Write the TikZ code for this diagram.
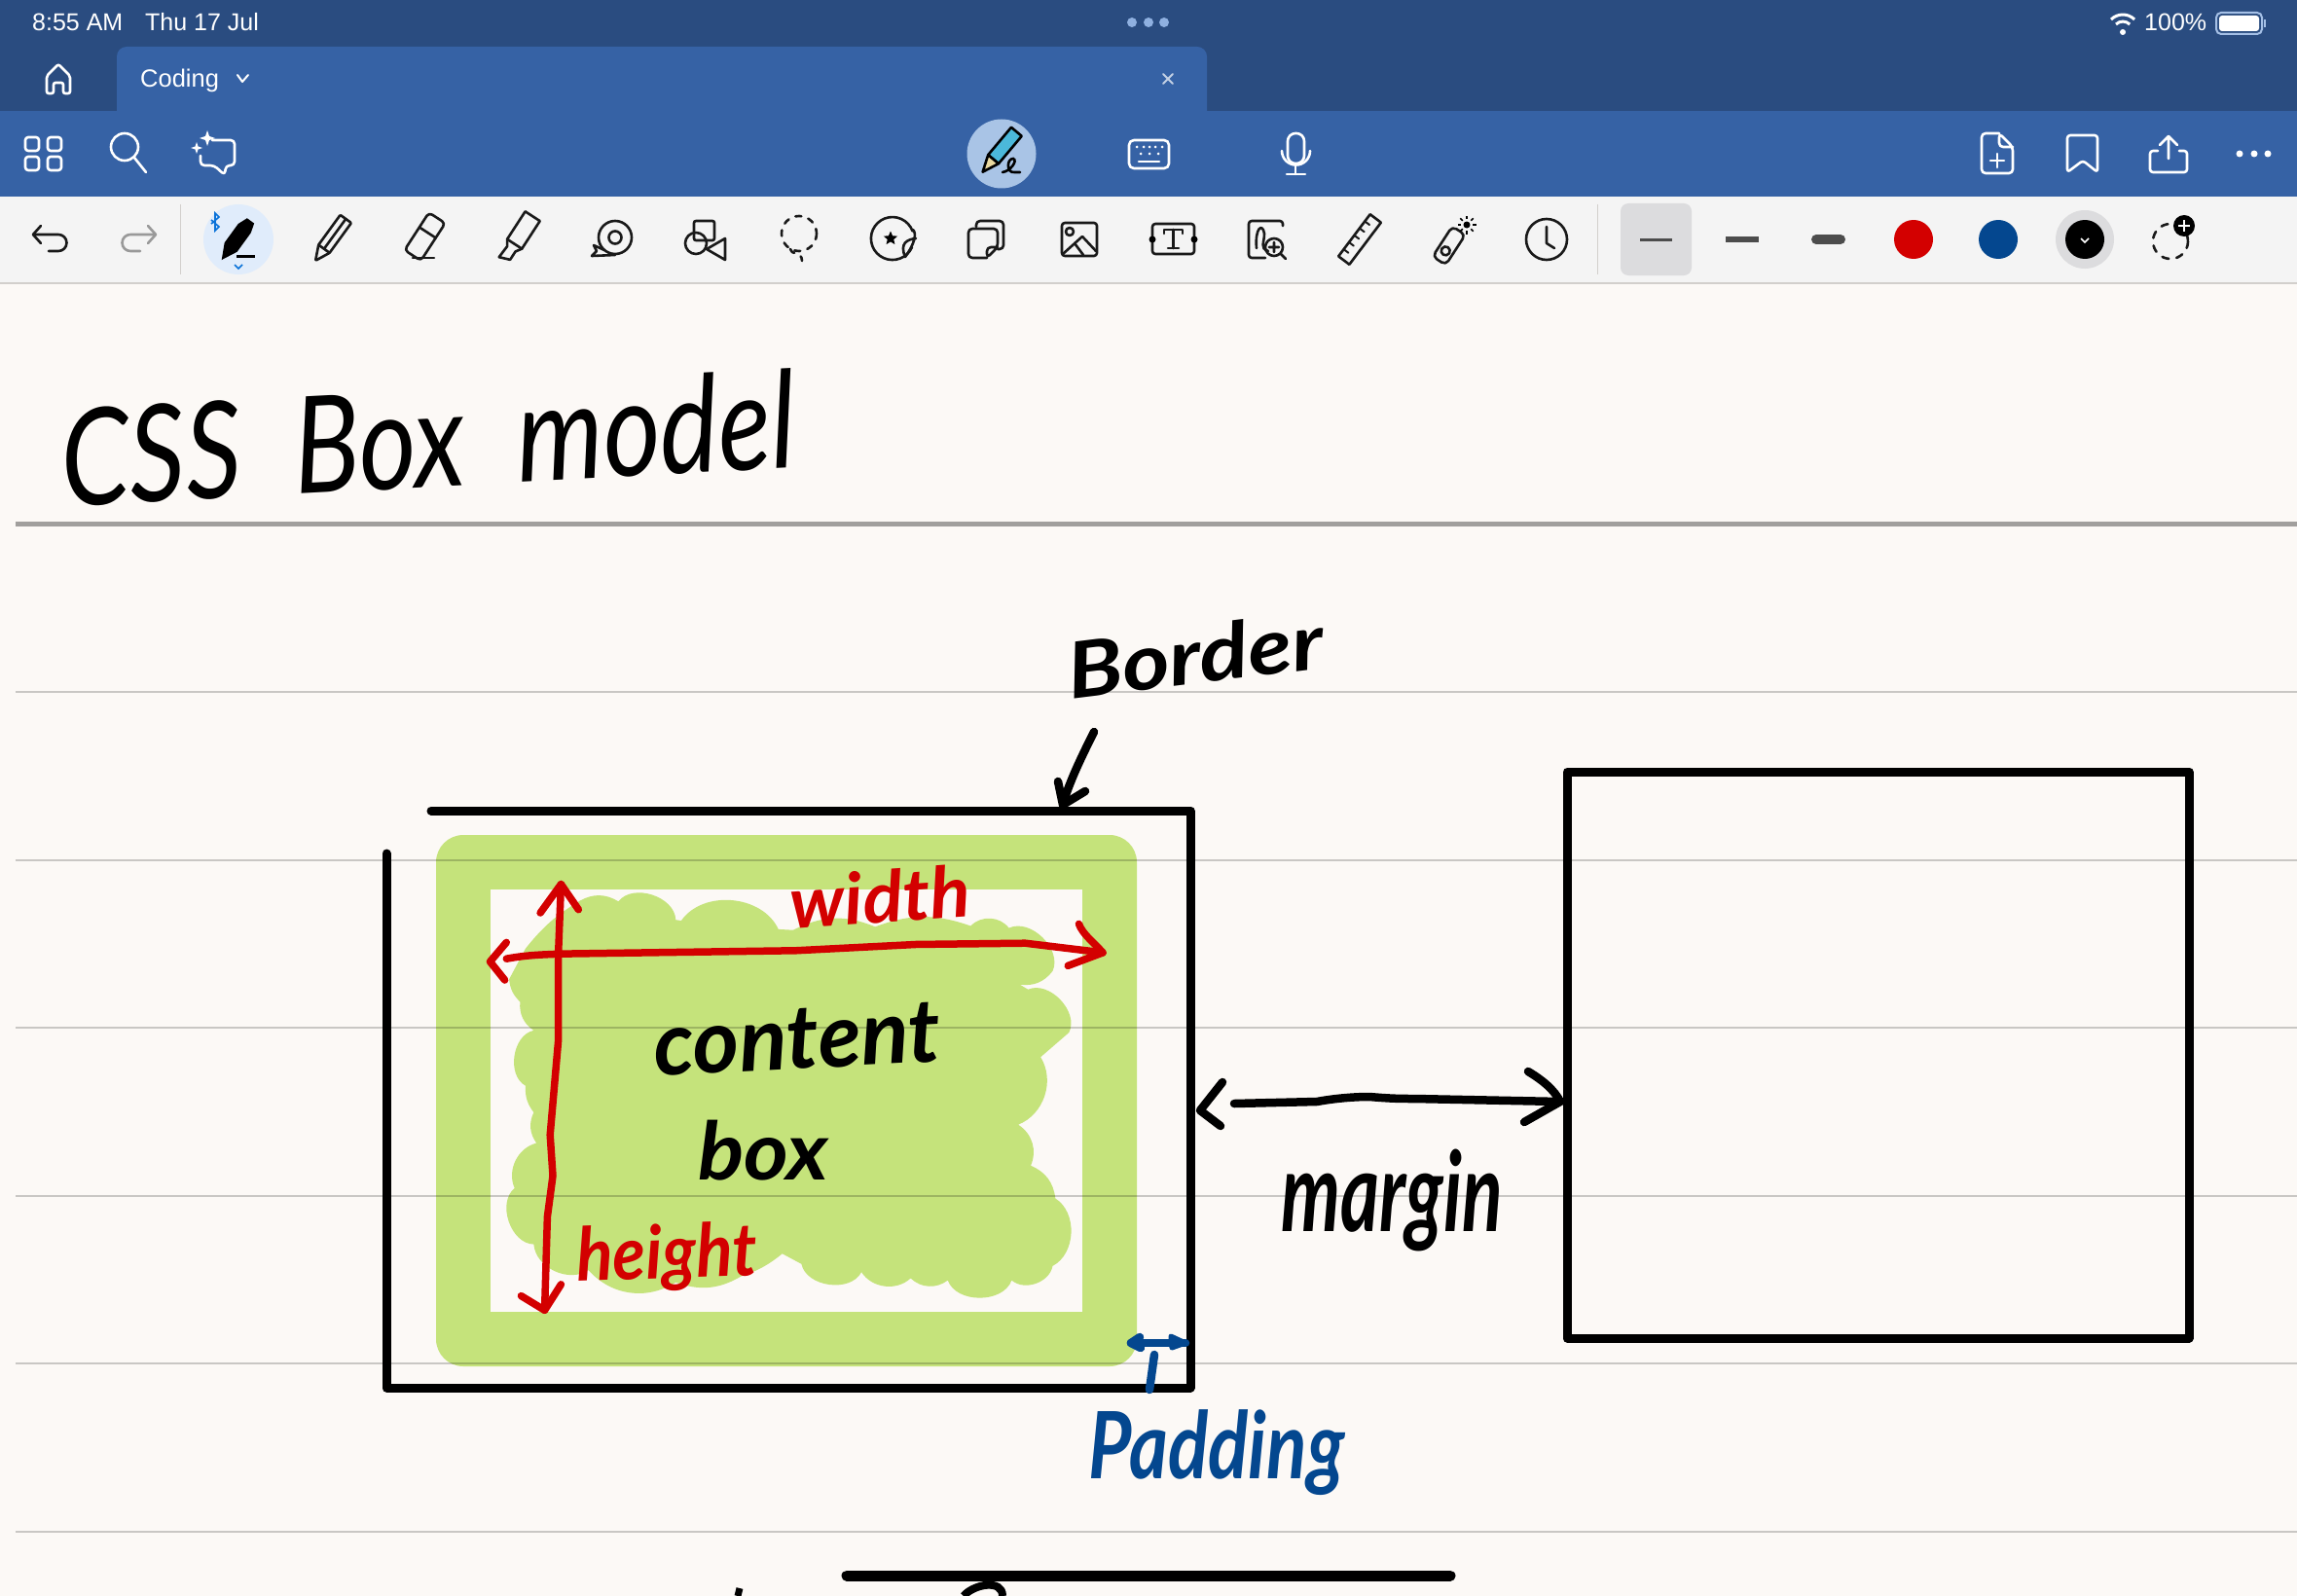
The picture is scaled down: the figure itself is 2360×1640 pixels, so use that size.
\documentclass[tikz,border=0pt]{standalone}
\usepackage{fontspec}
\usetikzlibrary{shapes.geometric}
\setmainfont{Liberation Sans}
\definecolor{statusbar}{HTML}{2A4C80}
\definecolor{tabblue}{HTML}{3662A5}
\definecolor{strip}{HTML}{F4F4F4}
\definecolor{paper}{HTML}{FCF9F6}
\definecolor{stripedge}{HTML}{D2CFCC}
\definecolor{blob}{HTML}{C5E37B}
\definecolor{redink}{HTML}{D30000}
\definecolor{blueink}{HTML}{04478F}
\definecolor{penbg}{HTML}{A9C4E6}
\definecolor{pencyan}{HTML}{4BB8DA}
\definecolor{pentan}{HTML}{EAD9A0}
\definecolor{selbg}{HTML}{E0ECFB}
\definecolor{btblue}{HTML}{0A72D8}
\definecolor{widthbg}{HTML}{DCDCDE}
\definecolor{widthbar}{HTML}{4C4C4C}
\definecolor{dimdot}{HTML}{8FB0E0}
\newdimen\hfh
\newdimen\hfw
\newcommand{\handfit}[4]{% weight, width, height, text
  \setbox0=\hbox{\fontspec{Lato}#1\itshape\fontsize{100}{100}\selectfont #4}%
  \hfh=\dimexpr\ht0+\dp0\relax
  \hfw=\wd0\relax
  \pgfmathsetmacro{\fsz}{#3*100/\hfh}%
  \pgfmathsetmacro{\stv}{#2/(\hfw/100*\fsz)}%
  \edef\handload{\noexpand\fontspec{Lato}[FakeStretch=\stv]}\handload
  #1\itshape\fontsize{\fsz}{\fsz}\selectfont #4}
\tikzset{
  hand/.style={inner sep=0pt},
  barline/.style={draw=white,line width=2.6pt,line cap=round,line join=round},
  tool/.style={draw=black!90,line width=2.6pt,line cap=round,line join=round},
  ruled/.style={draw=black,opacity=.2,line width=2pt},
  boxline/.style={draw=black,line width=9pt,line cap=round,line join=round},
  inkblack/.style={draw=black,line width=8.5pt,line cap=round,line join=round},
  inkred/.style={draw=redink,line width=7.5pt,line cap=round,line join=round},
  inkblue/.style={draw=blueink,line width=8.5pt,line cap=round,line join=round},
  statustext/.style={inner sep=0pt,anchor=west,text=white,font=\fontsize{25}{25}\selectfont},
}
\begin{document}
\begin{tikzpicture}[x=1pt,y=-1pt]
\useasboundingbox (0,0) rectangle (2360,1640);
% panels
\fill[paper] (0,0) rectangle (2360,1640);
\fill[statusbar] (0,0) rectangle (2360,114);
\fill[tabblue,rounded corners=10] (120,130) -- (120,48) -- (1240,48) -- (1240,130) -- cycle;
\fill[tabblue] (0,114) rectangle (2360,202);
\fill[strip] (0,202) rectangle (2360,290);
\draw[stripedge,line width=2pt] (0,290.5) -- (2360,290.5);
% status bar
\node[statustext] (clock) at (33,23) {8:55 AM};
\node[statustext] (date) at (149,23) {Thu 17 Jul};
\node[statustext] (battery) at (2203,23) {100\%};
\foreach \px in {1163,1180,1196} \fill[dimdot] (\px,23) circle[radius=5];
\fill[white] (2181,33) circle[radius=3];
\draw[white,line width=3pt] (2174,25) arc[start angle=225,end angle=315,radius=10];
\draw[white,line width=3pt] (2169,20) arc[start angle=225,end angle=315,radius=17];
\draw[dimdot!80!white,line width=2pt,rounded corners=5] (2277,13) rectangle (2324,35);
\fill[white,rounded corners=3] (2280,16) rectangle (2321,32);
\fill[dimdot!80!white] (2326,20) rectangle (2328,28);
% tab bar
\node[inner sep=0pt,anchor=west,text=white,font=\fontsize{25.5}{25.5}\selectfont] (tabname) at (144,83) {Coding};
\draw[barline,line width=2pt] (244,77) -- (249,84) -- (255,77);
\draw[barline,draw=white!70!tabblue,line width=2pt] (1195,76) -- (1205,86) (1205,76) -- (1195,86);
\draw[barline,rounded corners=2] (48,96) -- (48,78) -- (60,66) -- (72,78) -- (72,96) -- (65,96) -- (65,85) -- (55,85) -- (55,96) -- cycle;
% top toolbar left
\foreach \gx/\gy in {26/141,49/141,26/161,49/161}
  \draw[barline,rounded corners=3] (\gx,\gy) rectangle ++(14,14);
\draw[barline] (128,151) circle[radius=14];
\draw[barline] (138,162) -- (150,177);
\draw[barline,rounded corners=4] (218,144) -- (241,144) -- (241,170) -- (232,170) -- (231,180) -- (220,170) -- (206,170) -- (206,160);
\fill[white] (213,134) -- (215,140) -- (221,142) -- (215,144) -- (213,150) -- (211,144) -- (205,142) -- (211,140) -- cycle;
\fill[white] (202,146) -- (203.5,150.5) -- (208,152) -- (203.5,153.5) -- (202,158) -- (200.5,153.5) -- (196,152) -- (200.5,150.5) -- cycle;
% pen mode button
\fill[penbg] (1029,158) circle[radius=35.5];
\begin{scope}[shift={(1027,156)},rotate=-40]
  \draw[black,fill=pencyan,line width=2.6pt,line join=round] (-7,-27) -- (7,-27) -- (7,10) -- (-7,10) -- cycle;
  \draw[black,fill=pentan,line width=2.6pt,line join=round] (-7,10) -- (7,10) -- (0,27) -- cycle;
\end{scope}
\draw[black,line width=2.6pt,line cap=round] (1030,177) .. controls (1038,176) and (1046,165) .. (1041,163) .. controls (1034,163) and (1034,178) .. (1042,177) -- (1048,177);
% keyboard
\draw[barline,rounded corners=5] (1160,144) rectangle (1201,173);
\foreach \px in {1168,1175,1181,1187,1194} \fill[white] (\px,151) circle[radius=1.5];
\foreach \px in {1172,1181,1190} \fill[white] (\px,158) circle[radius=1.5];
\draw[barline] (1170,166) -- (1191,166);
% mic
\draw[barline,rounded corners=8] (1323,137) rectangle (1340,168);
\draw[barline] (1317,155) arc[start angle=180,end angle=0,radius=14.5];
\draw[barline] (1331,170) -- (1331,179);
\draw[barline] (1322,179) -- (1341,179);
% right icons
\draw[barline,rounded corners=4] (2054,137) -- (2036,137) -- (2036,178) -- (2068,178) -- (2068,151) -- (2054,137) -- (2054,151) -- (2068,151);
\draw[barline] (2052,158) -- (2052,172) (2045,165) -- (2059,165);
\draw[barline,rounded corners=3] (2124,177) -- (2124,139) -- (2155,139) -- (2155,177) -- (2140,165) -- cycle;
\draw[barline] (2228,163) -- (2228,140) (2219,149) -- (2228,140) -- (2237,149);
\draw[barline,rounded corners=3] (2217,155) -- (2209,155) -- (2209,177) -- (2247,177) -- (2247,155) -- (2239,155);
\foreach \px in {2301,2316,2330} \fill[white] (\px,158) circle[radius=3.5];
% undo redo
\draw[tool] (42,232) -- (34,241) -- (42,250);
\draw[tool] (34,241) -- (60,241) arc[start angle=-90,end angle=90,radius=8.5] -- (50,258);
\draw[tool,draw=black!40] (152,232) -- (160,241) -- (152,250);
\draw[tool,draw=black!40] (160,241) -- (134,241) arc[start angle=270,end angle=90,radius=8.5] -- (144,258);
\draw[stripedge,line width=1pt] (185,210) -- (185,282) (1641,210) -- (1641,282);
% selected pen
\fill[selbg] (245,246) circle[radius=36];
\begin{scope}[shift={(243,246)},rotate=-36]
  \fill[black] (0,26) -- (-8,10) -- (-8,-14) -- (-4,-24) -- (5,-24) -- (8,-14) -- (8,10) -- cycle;
\end{scope}
\draw[black,line width=3pt] (243,263) -- (262,263);
\draw[btblue,line width=1.6pt] (217,226) -- (225,233) -- (221,237) -- (221,219) -- (225,223) -- (217,230);
\draw[btblue,line width=1.6pt] (241,272) -- (245,276) -- (249,272);
% pencil
\begin{scope}[shift={(340,246)},rotate=-36]
  \draw[tool,rounded corners=1] (-7,-26) -- (7,-26) -- (7,12) -- (0,27) -- (-7,12) -- cycle;
  \draw[tool] (-7,12) -- (7,12) (0,-26) -- (0,12);
\end{scope}
% eraser
\begin{scope}[shift={(436,244)},rotate=-33]
  \draw[tool,rounded corners=4] (-10,-24) rectangle (10,22);
  \draw[tool] (-10,-6) -- (10,-6);
\end{scope}
\draw[tool] (424,265) -- (446,265);
% highlighter
\begin{scope}[shift={(533,244)},rotate=-33]
  \draw[tool] (-9,-26) -- (9,-26) -- (9,8) -- (5,14) -- (5,24) -- (-6,28) -- (-5,14) -- (-9,8) -- cycle;
  \draw[tool] (-9,8) -- (9,8);
\end{scope}
% tape
\draw[tool] (632,244) circle[radius=17];
\draw[tool] (632,244) circle[radius=6.5];
\draw[tool] (621,257) -- (610,252) -- (613,258) -- (608,263) -- (632,262);
% shapes
\draw[tool,rounded corners=2] (713,227) rectangle (734,247);
\draw[tool] (715,250) circle[radius=11];
\draw[tool] (745,245) -- (726,256) -- (745,267) -- cycle;
% lasso
\draw[tool,dash pattern=on 6pt off 7.5pt] (821,240) circle[radius=18];
\draw[tool,dash pattern=on 6pt off 7.5pt] (812,256) .. controls (812,262) and (824,258) .. (824,268);
% sticker
\draw[tool] (937,254) arc[start angle=24,end angle=340,radius=22];
\draw[tool] (938,236) .. controls (942,240) and (940,250) .. (930,264) .. controls (924,250) and (932,246) .. (941,245);
\node[star,star points=5,star point ratio=2.2,fill=black,minimum size=15pt,inner sep=0pt] (stickerstar) at (915,245) {};
% sticky
\draw[tool,rounded corners=4] (1003,233) -- (1003,227) -- (1031,227) -- (1031,256) -- (1025,256);
\draw[tool,rounded corners=4] (1014,265) -- (995,265) -- (995,235) -- (1025,235) -- (1025,254) -- (1014,265) -- (1014,254) -- (1025,254);
% image
\draw[tool,rounded corners=3] (1091,229) rectangle (1127,263);
\draw[tool] (1099,238) circle[radius=4];
\draw[tool] (1092,261) -- (1112,243) -- (1126,258) (1104,250) -- (1113,262);
% text box
\draw[tool,rounded corners=3] (1184,230) rectangle (1227,261);
\fill[black] (1184,246) circle[radius=3.5] (1227,246) circle[radius=3.5];
\draw[tool] (1196,240) -- (1196,236) -- (1215,236) -- (1215,240) (1205.5,236) -- (1205.5,255) (1200,255) -- (1211,255);
% zoom handwriting
\draw[tool,rounded corners=3] (1318,232) -- (1318,227) -- (1283,227) -- (1283,265) -- (1300,265);
\draw[tool] (1291,255) .. controls (1289,235) and (1297,228) .. (1299,240) .. controls (1299,250) and (1294,255) .. (1303,258);
\draw[tool] (1309,254) circle[radius=9];
\draw[tool] (1309,249) -- (1309,259) (1304,254) -- (1314,254) (1316,261) -- (1321,266);
% ruler
\begin{scope}[shift={(1397,246)},rotate=-37]
  \draw[tool] (-7,-27) rectangle (7,27);
  \foreach \ty in {-18,-9,0,9,18} \draw[tool,line width=2pt] (-7,\ty) -- (-1,\ty);
\end{scope}
% laser
\begin{scope}[shift={(1489,252)},rotate=-33]
  \draw[tool,rounded corners=5] (-8,-18) rectangle (8,19);
  \draw[tool] (0,7) circle[radius=4.5];
\end{scope}
\fill[black] (1507,231) circle[radius=3.5];
\foreach \ang in {0,45,...,315} \draw[black,line width=1.6pt] (1507,231) ++(\ang:6) -- ++(\ang:3.5);
% clock
\draw[tool] (1589,246) circle[radius=21];
\draw[tool] (1589,233) -- (1589,250) -- (1597,255);
% pen widths
\fill[widthbg,rounded corners=8] (1665,209) rectangle (1738,283);
\draw[widthbar,line width=3pt] (1685,246) -- (1718,246);
\draw[widthbar,line width=6pt] (1773,246) -- (1807,246);
\draw[widthbar,line width=10pt,line cap=round] (1866,246) -- (1891,246);
\fill[redink] (1966,246) circle[radius=20];
\fill[blueink] (2053,246) circle[radius=20];
\fill[widthbg] (2142,246) circle[radius=30];
\fill[black] (2142,246) circle[radius=20];
\draw[white,line width=1.5pt] (2138,245) -- (2142,249) -- (2146,245);
\draw[tool,dash pattern=on 7pt off 8pt] (2230,248) circle[radius=18];
\fill[black] (2244,232) circle[radius=11];
\draw[white,line width=2pt] (2244,226) -- (2244,238) (2238,232) -- (2250,232);
% content green area
\fill[blob,rounded corners=28] (448,858) rectangle (1168,1404);
\fill[paper] (504,914) rectangle (1112,1347.5);
\begin{scope}[shift={(380,800)},x=0.5612pt,y=-0.4209pt]
\fill[blob] (285,415) to[bend left=10] (385,298) to[bend left=30] (455,300) to[bend left=70] (560,345) -- (570,347)
  to[bend left=60] (748,368) -- (775,370) to[bend left=25] (925,362) to[bend left=20] (1100,360)
  to[bend left=50] (1170,365) to[bend left=70] (1250,470) to[bend left=30] (1190,503) -- (1205,515)
  to[bend left=70] (1280,620) -- (1228,680) to[bend left=50] (1187,845) to[bend left=40] (1210,945)
  to[bend left=30] (1255,1025) to[bend left=60] (1250,1190) to[bend left=60] (1175,1225)
  to[bend left=70] (1058,1225) to[bend left=40] (990,1220) to[bend left=50] (900,1205)
  to[bend left=70] (790,1185) -- (755,1160) to[bend left=10] (680,1215) to[bend left=25] (560,1230)
  to[bend left=40] (400,1200) to[bend left=60] (300,1137) to[bend left=70] (265,1000)
  to[bend left=50] (305,890) to[bend left=30] (300,815) to[bend left=20] (285,750)
  to[bend left=70] (300,615) to[bend left=30] (275,545) to[bend left=20] (255,490) -- cycle;
\end{scope}
% ruled lines
\draw[ruled,draw=black,opacity=.36,line width=5pt] (16,538) -- (2360,538);
\foreach \ly in {711,883.5,1056,1228.5,1401,1574} \draw[ruled] (16,\ly) -- (2360,\ly);
% border box and right box
\draw[boxline] (443,833) -- (1223,833) -- (1223,1426) -- (397,1426) -- (397,877);
\draw[boxline] (1610,793) rectangle (2249,1375);
\draw[line width=11pt,line cap=round] (870,1619) -- (1490,1619);
\draw[line width=7pt] (758,1640) -- (760,1632);
\draw[line width=8pt] (990,1640) .. controls (1000,1628) and (1030,1622) .. (1030,1640);
% handwritten labels
\node[hand,rotate=3,text=black] (title) at (440,450) {\handfit{\mdseries}{745}{103}{CSS \hspace{.2em}Box \hspace{.2em}model}};
\node[hand,rotate=7,text=black] (borderlabel) at (1228,673) {\handfit{\bfseries}{265}{60}{Border}};
\node[hand,rotate=4,text=redink] (widthlabel) at (904,921) {\handfit{\bfseries}{185}{55}{width}};
\node[hand,rotate=2,text=redink] (heightlabel) at (685,1292) {\handfit{\bfseries}{185}{70}{height}};
\node[hand,rotate=3,text=black] (contentlabel) at (819,1068) {\handfit{\bfseries}{294}{62}{content}};
\node[hand,text=black] (boxlabel) at (784,1182) {\handfit{\bfseries}{134}{62}{box}};
\node[hand,text=black] (marginlabel) at (1430,1233) {\handfit{\bfseries}{227}{105}{margin}};
\node[hand,text=blueink] (paddinglabel) at (1250,1493) {\handfit{\bfseries}{263}{88}{Padding}};
% border arrow
\coordinate (bstart) at (1124,752);
\coordinate (btip) at (1092,827);
\draw[inkblack] (bstart) .. controls (1110,780) and (1098,805) .. (btip);
\draw[inkblack] (1087,803) -- (btip) -- (1115,813);
% margin arrow
\coordinate (mleft) at (1233,1141);
\coordinate (mright) at (1603,1132);
\draw[inkblack] (1268,1134) -- (1353,1132) .. controls (1375,1128) and (1395,1127) .. (1407,1127) .. controls (1430,1129) and (1440,1129) .. (1453,1129) -- (mright);
\draw[inkblack] (1256,1112) -- (mleft) -- (1254,1157);
\draw[inkblack] (1570,1101) .. controls (1585,1110) and (1597,1120) .. (mright) -- (1566,1153);
% padding arrow
\coordinate (pleft) at (1162,1380);
\coordinate (pright) at (1218,1380);
\draw[inkblue] (pleft) -- (pright);
\draw[inkblue,fill=blueink] (1171,1374) -- (pleft) -- (1172,1385);
\draw[inkblue,line width=5pt,fill=blueink] (1203,1373) -- (pright) -- (1204,1385) -- cycle;
\draw[inkblue] (1186,1392) -- (1181,1428);
% red arrows
\begin{scope}[shift={(380,800)},x=0.5612pt,y=-0.4209pt]
\coordinate (wl) at (220,447);
\coordinate (wr) at (1342,425);
\coordinate (ht) at (350,258);
\coordinate (hb) at (320,1298);
\draw[inkred] (250,440) .. controls (290,430) and (320,430) .. (350,428) -- (780,420) -- (1000,405) -- (1200,402) -- (wr);
\draw[inkred] (250,400) -- (wl) -- (247,492);
\draw[inkred] (1298,355) .. controls (1305,380) and (1325,400) .. (wr) -- (1278,457);
\draw[inkred] (ht) -- (345,430) -- (345,640) -- (330,870) -- (335,970) -- (325,1070) -- (hb);
\draw[inkred] (312,328) -- (ht) -- (382,320);
\draw[inkred] (277,1263) -- (hb) -- (350,1235);
\end{scope}
\end{tikzpicture}
\end{document}
